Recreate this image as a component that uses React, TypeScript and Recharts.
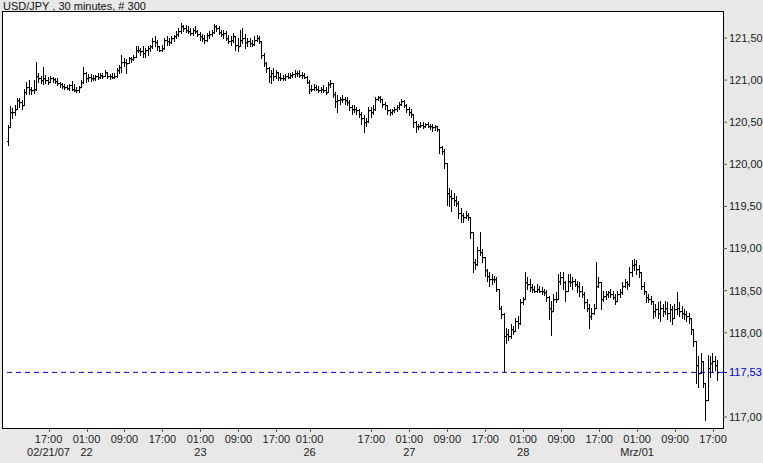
import { ComposedChart, Bar, XAxis, YAxis, ReferenceLine } from "recharts";

// 30 minute USD/JPY bars (open = previous close)
const FIRST_OPEN = 120.28;
const LAST_PRICE = 117.53;

const highs = [
  120.47, 120.69, 120.67, 120.71, 120.79, 120.79, 120.76, 120.90, 120.98, 121.00,
  120.92, 121.00, 121.22, 121.08, 121.05, 121.16, 121.06, 121.04, 121.05, 121.04,
  121.02, 121.02, 120.98, 120.97, 120.95, 120.94, 120.95, 120.99, 120.95, 120.92,
  120.93, 121.00, 121.16, 121.10, 121.07, 121.07, 121.06, 121.06, 121.08, 121.08,
  121.08, 121.12, 121.10, 121.07, 121.08, 121.08, 121.14, 121.18, 121.30, 121.26,
  121.25, 121.28, 121.28, 121.30, 121.40, 121.40, 121.38, 121.40, 121.38, 121.40,
  121.42, 121.50, 121.52, 121.48, 121.40, 121.42, 121.50, 121.52, 121.50, 121.52,
  121.54, 121.58, 121.62, 121.68, 121.66, 121.65, 121.64, 121.62, 121.62, 121.64,
  121.60, 121.57, 121.55, 121.54, 121.56, 121.58, 121.60, 121.67, 121.66, 121.64,
  121.60, 121.60, 121.58, 121.54, 121.52, 121.56, 121.52, 121.50, 121.60, 121.62,
  121.55, 121.50, 121.50, 121.48, 121.52, 121.53, 121.52, 121.40, 121.32, 121.22,
  121.15, 121.12, 121.14, 121.12, 121.10, 121.08, 121.06, 121.07, 121.08, 121.08,
  121.10, 121.12, 121.11, 121.12, 121.10, 121.09, 121.05, 121.00, 120.94, 120.95,
  120.94, 120.93, 120.92, 120.94, 120.92, 120.98, 121.00, 120.97, 120.86, 120.82,
  120.80, 120.82, 120.80, 120.80, 120.76, 120.70, 120.70, 120.68, 120.66, 120.62,
  120.58, 120.55, 120.68, 120.68, 120.70, 120.80, 120.81, 120.81, 120.78, 120.74,
  120.70, 120.66, 120.66, 120.68, 120.70, 120.74, 120.77, 120.76, 120.72, 120.68,
  120.66, 120.60, 120.52, 120.48, 120.50, 120.50, 120.49, 120.50, 120.48, 120.48,
  120.47, 120.46, 120.30, 120.22, 120.18, 120.02, 119.72, 119.70, 119.66, 119.62,
  119.56, 119.48, 119.42, 119.44, 119.42, 119.36, 119.20, 118.88, 119.02, 119.20,
  119.00, 118.90, 118.76, 118.72, 118.70, 118.68, 118.66, 118.50, 118.32, 118.24,
  118.06, 118.04, 118.10, 118.08, 118.18, 118.20, 118.40, 118.42, 118.72, 118.66,
  118.64, 118.58, 118.56, 118.58, 118.56, 118.54, 118.52, 118.51, 118.44, 118.38,
  118.46, 118.48, 118.70, 118.72, 118.72, 118.62, 118.70, 118.70, 118.66, 118.64,
  118.62, 118.60, 118.56, 118.48, 118.40, 118.34, 118.30, 118.34, 118.84, 118.66,
  118.60, 118.50, 118.50, 118.50, 118.52, 118.50, 118.46, 118.50, 118.52, 118.60,
  118.64, 118.62, 118.78, 118.86, 118.88, 118.86, 118.80, 118.70, 118.60, 118.50,
  118.46, 118.44, 118.38, 118.34, 118.36, 118.38, 118.34, 118.38, 118.36, 118.34,
  118.32, 118.34, 118.48, 118.36, 118.32, 118.28, 118.26, 118.24, 118.16, 117.98,
  117.80, 117.72, 117.76, 117.62, 117.40, 117.74, 117.72, 117.76, 117.72, 117.68,
];

const lows = [
  120.23, 120.46, 120.55, 120.58, 120.66, 120.68, 120.66, 120.70, 120.83, 120.84,
  120.84, 120.85, 120.88, 120.98, 120.96, 120.95, 120.97, 120.95, 120.98, 120.98,
  120.96, 120.94, 120.92, 120.91, 120.90, 120.89, 120.88, 120.88, 120.87, 120.86,
  120.86, 120.92, 120.96, 120.98, 120.99, 120.99, 121.00, 121.00, 121.01, 121.02,
  121.03, 121.05, 121.03, 121.01, 121.02, 121.02, 121.04, 121.08, 121.10, 121.17,
  121.08, 121.20, 121.22, 121.24, 121.28, 121.33, 121.30, 121.28, 121.28, 121.30,
  121.35, 121.38, 121.40, 121.36, 121.34, 121.35, 121.37, 121.42, 121.42, 121.44,
  121.46, 121.50, 121.52, 121.56, 121.58, 121.57, 121.56, 121.53, 121.54, 121.56,
  121.52, 121.48, 121.46, 121.44, 121.47, 121.50, 121.52, 121.56, 121.58, 121.55,
  121.52, 121.50, 121.48, 121.44, 121.42, 121.45, 121.36, 121.34, 121.40, 121.44,
  121.38, 121.40, 121.41, 121.40, 121.42, 121.46, 121.44, 121.26, 121.17, 121.10,
  120.98, 120.97, 121.00, 121.02, 121.00, 121.00, 121.00, 121.00, 121.02, 121.02,
  121.04, 121.04, 121.05, 121.04, 121.03, 121.02, 120.96, 120.85, 120.87, 120.88,
  120.88, 120.86, 120.86, 120.86, 120.84, 120.88, 120.92, 120.80, 120.68, 120.62,
  120.72, 120.74, 120.72, 120.70, 120.64, 120.60, 120.62, 120.60, 120.56, 120.48,
  120.38, 120.45, 120.50, 120.56, 120.60, 120.64, 120.76, 120.74, 120.68, 120.66,
  120.60, 120.58, 120.60, 120.62, 120.63, 120.66, 120.70, 120.68, 120.62, 120.58,
  120.56, 120.44, 120.38, 120.42, 120.44, 120.43, 120.44, 120.44, 120.42, 120.40,
  120.41, 120.40, 120.14, 120.12, 119.96, 119.52, 119.50, 119.44, 119.52, 119.50,
  119.36, 119.32, 119.32, 119.36, 119.34, 119.12, 118.72, 118.76, 118.80, 118.92,
  118.84, 118.68, 118.62, 118.56, 118.58, 118.60, 118.50, 118.28, 118.18, 117.53,
  117.88, 117.92, 117.94, 117.98, 118.02, 118.06, 118.10, 118.34, 118.40, 118.52,
  118.50, 118.48, 118.48, 118.49, 118.48, 118.46, 118.45, 118.38, 118.16, 117.97,
  118.28, 118.36, 118.42, 118.58, 118.52, 118.38, 118.50, 118.56, 118.52, 118.55,
  118.48, 118.44, 118.42, 118.30, 118.26, 118.06, 118.16, 118.22, 118.42, 118.54,
  118.28, 118.38, 118.40, 118.42, 118.42, 118.40, 118.34, 118.38, 118.42, 118.46,
  118.54, 118.52, 118.56, 118.68, 118.74, 118.70, 118.66, 118.52, 118.46, 118.36,
  118.36, 118.34, 118.18, 118.20, 118.18, 118.14, 118.20, 118.22, 118.16, 118.14,
  118.10, 118.18, 118.22, 118.20, 118.18, 118.16, 118.14, 118.12, 117.98, 117.84,
  117.40, 117.36, 117.56, 117.36, 116.96, 117.20, 117.48, 117.54, 117.56, 117.44,
];

const closes = [
  120.44, 120.62, 120.62, 120.66, 120.76, 120.74, 120.70, 120.86, 120.92, 120.90,
  120.88, 120.90, 121.05, 121.02, 121.00, 121.02, 121.00, 120.98, 121.02, 121.01,
  120.99, 120.96, 120.95, 120.93, 120.92, 120.91, 120.94, 120.90, 120.88, 120.88,
  120.92, 120.98, 121.08, 121.02, 121.04, 121.03, 121.02, 121.05, 121.04, 121.06,
  121.05, 121.10, 121.05, 121.05, 121.04, 121.05, 121.12, 121.15, 121.22, 121.22,
  121.20, 121.26, 121.25, 121.28, 121.36, 121.36, 121.34, 121.32, 121.36, 121.38,
  121.40, 121.47, 121.45, 121.40, 121.36, 121.38, 121.48, 121.46, 121.45, 121.50,
  121.52, 121.55, 121.58, 121.64, 121.62, 121.60, 121.58, 121.56, 121.60, 121.58,
  121.55, 121.52, 121.50, 121.48, 121.53, 121.55, 121.57, 121.64, 121.62, 121.57,
  121.55, 121.56, 121.50, 121.47, 121.48, 121.52, 121.42, 121.40, 121.48, 121.50,
  121.45, 121.46, 121.44, 121.43, 121.48, 121.50, 121.46, 121.30, 121.20, 121.14,
  121.05, 121.08, 121.05, 121.10, 121.04, 121.03, 121.02, 121.05, 121.04, 121.06,
  121.07, 121.08, 121.08, 121.06, 121.06, 121.04, 120.98, 120.90, 120.90, 120.92,
  120.90, 120.88, 120.90, 120.88, 120.86, 120.95, 120.96, 120.84, 120.75, 120.76,
  120.78, 120.78, 120.76, 120.74, 120.68, 120.66, 120.66, 120.64, 120.60, 120.55,
  120.50, 120.52, 120.64, 120.62, 120.66, 120.78, 120.80, 120.78, 120.72, 120.70,
  120.64, 120.62, 120.64, 120.66, 120.68, 120.72, 120.75, 120.70, 120.66, 120.62,
  120.60, 120.50, 120.46, 120.46, 120.47, 120.46, 120.48, 120.46, 120.45, 120.44,
  120.45, 120.42, 120.20, 120.16, 120.02, 119.66, 119.62, 119.60, 119.58, 119.54,
  119.42, 119.40, 119.38, 119.40, 119.38, 119.20, 118.84, 118.82, 118.98, 118.96,
  118.90, 118.74, 118.68, 118.64, 118.64, 118.64, 118.52, 118.30, 118.22, 117.96,
  117.98, 117.96, 118.04, 118.02, 118.14, 118.12, 118.36, 118.40, 118.60, 118.58,
  118.54, 118.52, 118.50, 118.52, 118.50, 118.50, 118.48, 118.42, 118.30, 118.26,
  118.40, 118.40, 118.62, 118.66, 118.60, 118.50, 118.62, 118.60, 118.62, 118.58,
  118.56, 118.50, 118.46, 118.36, 118.30, 118.20, 118.24, 118.30, 118.56, 118.60,
  118.40, 118.44, 118.46, 118.48, 118.46, 118.42, 118.38, 118.46, 118.48, 118.56,
  118.60, 118.58, 118.72, 118.80, 118.82, 118.76, 118.72, 118.56, 118.50, 118.42,
  118.40, 118.38, 118.26, 118.28, 118.24, 118.30, 118.26, 118.30, 118.24, 118.28,
  118.18, 118.28, 118.30, 118.26, 118.24, 118.22, 118.20, 118.18, 118.04, 117.90,
  117.62, 117.52, 117.66, 117.40, 117.20, 117.58, 117.64, 117.66, 117.62, 117.53,
];

// x axis labels: bar index, time, date
const tickIndex = [17, 33, 49, 65, 81, 97, 113, 127, 153, 169, 185, 201, 217, 233, 249, 265, 281, 297];
const tickTime = ["17:00", "01:00", "09:00", "17:00", "01:00", "09:00", "17:00", "01:00", "17:00",
  "01:00", "09:00", "17:00", "01:00", "09:00", "17:00", "01:00", "09:00", "17:00"];
const tickDate = ["02/21/07", "22", "", "", "23", "", "", "26", "", "27", "", "", "28", "", "", "Mrz/01", "", ""];

const yTicks = [117, 118, 118.5, 119, 119.5, 120, 120.5, 121, 121.5];

const rows = closes.map((c, i) => {
  const open = i === 0 ? FIRST_OPEN : closes[i - 1];
  return {
    idx: i,
    open,
    close: c,
    high: Math.max(highs[i], open, c),
    low: Math.min(lows[i], open, c),
  };
});

const PLOT_BOTTOM = 429;
const TICK_COLOR = "#4a6658";
const FONT = '"Liberation Sans", Arial, sans-serif';

const fmt = (v: number) => v.toFixed(2).replace(".", ",");

function OhlcBar(props: any) {
  const { x, y, width, height, payload } = props;
  if (x == null || !payload) return <g />;
  const top = Math.min(y, y + height);
  const bot = Math.max(y, y + height);
  const span = payload.high - payload.low;
  const toPx = (v: number) =>
    Math.round(span > 0 ? top + ((payload.high - v) / span) * (bot - top) : top) + 0.5;
  const c = Math.floor(x + width / 2);
  return (
    <g stroke="#000" strokeWidth={1} shapeRendering="crispEdges">
      <line x1={c + 0.5} x2={c + 0.5} y1={Math.round(top)} y2={Math.round(bot) + 1} />
      <line x1={c - 1} x2={c} y1={toPx(payload.open)} y2={toPx(payload.open)} />
      <line x1={c + 1} x2={c + 2} y1={toPx(payload.close)} y2={toPx(payload.close)} />
      <line x1={c + 1} x2={c + 2} y1={toPx(payload.close) + 1} y2={toPx(payload.close) + 1} strokeOpacity={0.35} />
    </g>
  );
}

function TimeTick(props: any) {
  const { x, payload } = props;
  const k = tickIndex.indexOf(payload.value);
  if (k < 0) return <g />;
  const px = Math.round(x) + 0.5;
  return (
    <g fontFamily={FONT} fontSize={11} fill="#222">
      <line x1={px} x2={px} y1={PLOT_BOTTOM} y2={PLOT_BOTTOM + 3} stroke={TICK_COLOR} />
      <text x={x} y={PLOT_BOTTOM + 14} textAnchor="middle">{tickTime[k]}</text>
      {tickDate[k] && (
        <text x={x} y={PLOT_BOTTOM + 27} textAnchor="middle">{tickDate[k]}</text>
      )}
    </g>
  );
}

function LastLabel(props: any) {
  const { viewBox } = props;
  if (!viewBox) return null;
  const right = viewBox.x + viewBox.width;
  const yy = Math.round(viewBox.y) + 0.5;
  return (
    <g>
      <line x1={right} x2={right + 4} y1={yy} y2={yy} stroke="#0000cc" />
      <text x={right + 6} y={viewBox.y} dy="0.355em" fill="#0000cc" fontSize={11} fontFamily={FONT}>
        {fmt(LAST_PRICE)}
      </text>
    </g>
  );
}

export default function App() {
  return (
    <div
      style={{
        position: "absolute",
        left: 0,
        top: 0,
        width: 763,
        height: 463,
        background: "#e8e8e8",
        fontFamily: FONT,
        overflow: "hidden",
      }}
    >
      <div
        style={{
          position: "absolute",
          left: 2,
          top: 11,
          width: 722,
          height: 418,
          background: "#fff",
          border: "1px solid #000",
          boxSizing: "border-box",
        }}
      />
      <div style={{ position: "absolute", left: 3, top: 1, fontSize: 11, lineHeight: "11px", color: "#111" }}>
        USD/JPY , 30 minutes, # 300
      </div>
      <div style={{ position: "absolute", left: 0, top: 0 }}>
        <ComposedChart width={763} height={463} data={rows} margin={{ top: 12, right: 0, bottom: 0, left: 3 }}>
          <XAxis
            dataKey="idx"
            type="category"
            height={34}
            interval={0}
            padding={{ left: 4, right: 4 }}
            axisLine={false}
            tickLine={false}
            tick={<TimeTick />}
          />
          <YAxis
            orientation="right"
            type="number"
            width={40}
            domain={[116.8575, 121.8087]}
            allowDataOverflow
            ticks={yTicks}
            tickFormatter={fmt}
            tickSize={4}
            tickMargin={2}
            axisLine={false}
            tickLine={{ stroke: TICK_COLOR }}
            tick={{ fill: "#222", fontSize: 11, fontFamily: FONT }}
          />
          <ReferenceLine
            y={LAST_PRICE}
            stroke="#0000cc"
            strokeDasharray="5 4"
            label={<LastLabel />}
          />
          <Bar
            dataKey={(d: any) => [d.low, d.high]}
            shape={<OhlcBar />}
            barSize={2}
            isAnimationActive={false}
          />
        </ComposedChart>
      </div>
    </div>
  );
}
